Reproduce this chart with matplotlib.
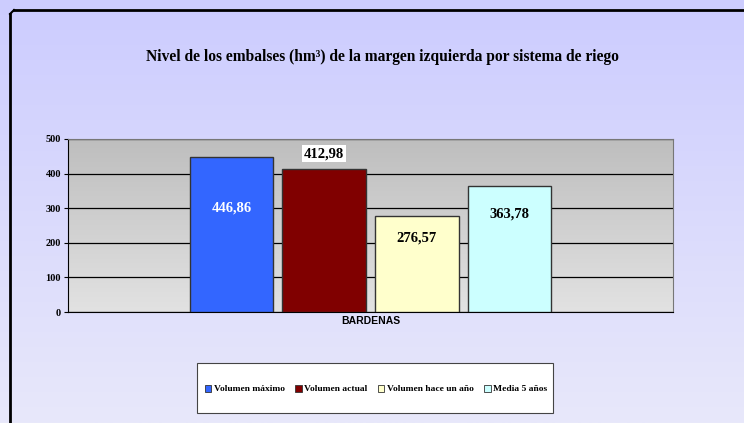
import numpy as np
import matplotlib
matplotlib.use('Agg')
import matplotlib.pyplot as plt
from matplotlib.patches import Patch, Rectangle
from matplotlib.colors import LinearSegmentedColormap

# data
category = 'BARDENAS'
series = ['Volumen máximo', 'Volumen actual', 'Volumen hace un año', 'Media 5 años']
values = [446.86, 412.98, 276.57, 363.78]
labels = ['446,86', '412,98', '276,57', '363,78']
colors = ['#3366FF', '#800000', '#FFFFCC', '#CCFFFF']
label_y = [300, 457, 214, 283]
label_colors = ['white', 'black', 'black', 'black']
yticks = [0, 100, 200, 300, 400, 500]

W, H = 744, 423
fig = plt.figure(figsize=(W / 100, H / 100), dpi=100)

# fondo degradado (lavanda)
bg = fig.add_axes([0, 0, 1, 1], zorder=-10)
grad = np.linspace(0, 1, 256).reshape(-1, 1)
cm_bg = LinearSegmentedColormap.from_list('bg', ['#CCCCFF', '#E8E8FA'])
bg.imshow(grad, aspect='auto', cmap=cm_bg, extent=[0, 1, 0, 1], origin='upper')
bg.set_xlim(0, 1)
bg.set_ylim(0, 1)
bg.axis('off')
# marco (izquierda y arriba)
bg.plot([10 / W, 10 / W], [0, 1 - 14 / H], color='black', lw=2.0)
bg.plot([14 / W, 1], [1 - 10 / H, 1 - 10 / H], color='black', lw=2.0)
bg.plot([10 / W, 14 / W], [1 - 14 / H, 1 - 10 / H], color='black', lw=1.5)
# caja de la leyenda
bg.add_patch(Rectangle((197 / W, 1 - 413 / H), 356 / W, 50 / H,
                       facecolor='white', edgecolor='#444444', linewidth=0.8))

fig.text(382 / W, 1 - 57 / H,
         'Nivel de los embalses (hm³) de la margen izquierda por sistema de riego',
         ha='center', va='center', fontsize=11.2, fontweight='bold',
         family='Liberation Serif')

# area del grafico
x0, x1, ytop, ybot = 68, 673, 139, 312
ax = fig.add_axes([x0 / W, 1 - ybot / H, (x1 - x0) / W, (ybot - ytop) / H])
cm_ax = LinearSegmentedColormap.from_list('ax', ['#BEBEBE', '#E2E2E2'])
ax.imshow(grad, aspect='auto', cmap=cm_ax, extent=[-0.5, 0.5, 0, 500],
          origin='upper', zorder=0)

width = 0.138
gap = 0.015
n = len(values)
offsets = [(i - (n - 1) / 2) * (width + gap) for i in range(n)]
for i in range(n):
    ax.bar(offsets[i], values[i], width, color=colors[i], edgecolor='#333333',
           linewidth=1.0, zorder=3)
    bbox = None
    if i == 1:
        bbox = dict(facecolor='white', edgecolor='none', pad=1.5)
    ax.text(offsets[i], label_y[i], labels[i], ha='center', va='center',
            fontsize=10.5, fontweight='bold', color=label_colors[i],
            family='Liberation Serif', bbox=bbox, zorder=4)

ax.set_xlim(-0.5, 0.5)
ax.set_ylim(0, 500)
ax.set_yticks(yticks)
ax.set_yticklabels([str(t) for t in yticks], fontsize=7.5, fontweight='bold',
                   family='Liberation Serif')
ax.yaxis.grid(True, color='black', linewidth=0.9, zorder=1)
ax.set_axisbelow(True)
ax.set_xticks([0])
ax.set_xticklabels([category], fontsize=7.5, fontweight='bold', family='Liberation Sans')
ax.tick_params(axis='x', length=0, pad=3)
ax.tick_params(axis='y', length=3, width=0.8, pad=2)
for s in ['top', 'right']:
    ax.spines[s].set_color('#777777')
    ax.spines[s].set_linewidth(0.8)
ax.spines['left'].set_color('black')
ax.spines['bottom'].set_color('black')

handles = [Patch(facecolor=c, edgecolor='#333333', linewidth=0.6) for c in colors]
leg = fig.legend(handles, series, loc='center',
                 bbox_to_anchor=(376 / W, 1 - 389 / H), ncol=4,
                 prop={'family': 'Liberation Serif', 'weight': 'bold', 'size': 6.8},
                 frameon=False, handlelength=0.7, handleheight=0.8,
                 handletextpad=0.25, columnspacing=1.1, borderaxespad=0)

fig.savefig('out.png', dpi=100)
